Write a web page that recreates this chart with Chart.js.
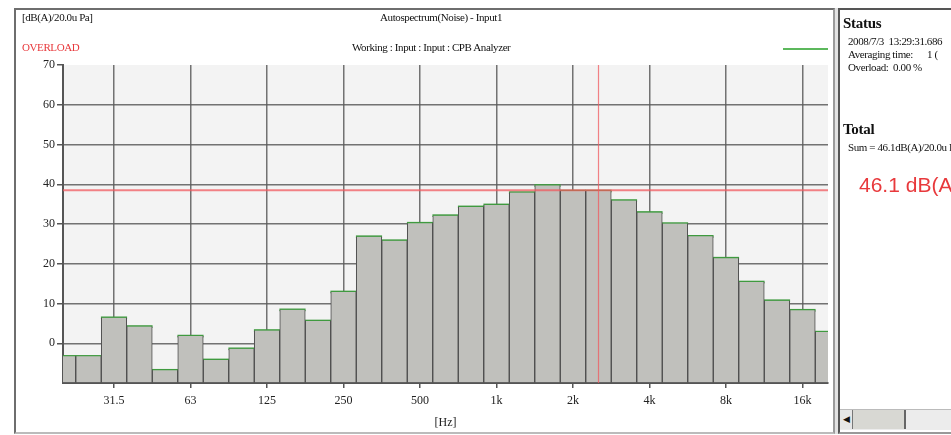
<!DOCTYPE html>
<html>
<head>
<meta charset="utf-8">
<script src="https://cdn.jsdelivr.net/npm/chart.js@4.4.1/dist/chart.umd.min.js"></script>
<style>
  body { margin: 0; width: 951px; height: 435px; background: #fff; overflow: hidden; position: relative; font-family: 'Liberation Serif', serif; }
  #leftPanel { position: absolute; left: 14px; top: 8px; width: 821px; height: 426px; box-sizing: border-box; border-top: 2px solid #6e6e6e; border-left: 2px solid #6e6e6e; border-bottom: 2px solid #bbb; border-right: 2px solid #9a9a9a; }
  #sep { position: absolute; left: 835px; top: 8px; width: 3px; height: 426px; background: #e2e2e2; }
  #rightPanel { position: absolute; left: 838px; top: 8px; width: 120px; height: 426px; box-sizing: border-box; border-top: 2px solid #555; border-left: 2px solid #555; border-bottom: 2px solid #999; }
  #chartWrap { position: absolute; left: 0; top: 0; width: 951px; height: 435px; z-index: 2; }
  .txt { position: absolute; white-space: nowrap; font-size: 11px; color: #111; letter-spacing: -0.4px; z-index: 3; }
  .bold { font-weight: bold; font-size: 15px; letter-spacing: -0.3px; color: #111; }
  #legendLine { position: absolute; left: 783px; top: 48px; width: 45px; height: 2px; background: #5cb85c; z-index: 3; }
  #scroll { position: absolute; left: 840px; top: 409px; width: 111px; height: 20px; background: #ececec; border-top: 1px solid #bbb; z-index: 3; }
  #scrollBtn { position: absolute; left: 0; top: 0; width: 12px; height: 19px; border-right: 1px solid #777; background: #e6e6e6; font-size: 9px; line-height: 19px; text-align: center; color: #111; }
  #scrollThumb { position: absolute; left: 13px; top: 0; width: 51px; height: 19px; background: #d8d8d3; border-right: 2px solid #666; }
</style>
</head>
<body>
<div id="leftPanel"></div>
<div id="sep"></div>
<div id="rightPanel"></div>
<div id="chartWrap"><canvas id="spectrum" width="951" height="435"></canvas></div>

<div class="txt" style="left:22px; top:11px;">[dB(A)/20.0u Pa]</div>
<div class="txt" style="left:22px; top:41px; color:#e8393c;">OVERLOAD</div>
<div class="txt" style="left:380px; top:11px;">Autospectrum(Noise) - Input1</div>
<div class="txt" style="left:352px; top:41px;">Working : Input : Input : CPB Analyzer</div>
<div id="legendLine"></div>

<div class="txt bold" style="left:843px; top:15px;">Status</div>
<div class="txt" style="left:848px; top:35px;">2008/7/3&nbsp; 13:29:31.686</div>
<div class="txt" style="left:848px; top:48px;">Averaging time:&nbsp;&nbsp;&nbsp;&nbsp;&nbsp; 1 (</div>
<div class="txt" style="left:848px; top:61px;">Overload:&nbsp; 0.00 %</div>
<div class="txt bold" style="left:843px; top:121px;">Total</div>
<div class="txt" style="left:848px; top:141px;">Sum = 46.1dB(A)/20.0u Pa</div>
<div class="txt" style="left:859px; top:173px; font-family:'Liberation Sans', sans-serif; font-size:21px; color:#e8393c; letter-spacing:0;">46.1 dB(A)</div>

<div id="scroll"><div id="scrollBtn">&#9664;</div><div id="scrollThumb"></div></div>

<script>
// 1/3-octave bands, 20 Hz .. 20 kHz
const bandLabels = ['20', '25', '31.5', '40', '50', '63', '80', '100', '125', '160', '200', '250', '315', '400', '500', '630',
  '800', '1k', '1.25k', '1.6k', '2k', '2.5k', '3.15k', '4k', '5k', '6.3k', '8k', '10k', '12.5k', '16k', '20k'];
const octaveLabels = ['31.5', '63', '125', '250', '500', '1k', '2k', '4k', '8k', '16k'];
const levels = [-3.3, -3.3, 6.4, 4.2, -6.8, 1.8, -4.2, -1.4, 3.2, 8.4, 5.6, 12.9, 26.8, 25.8, 30.2, 32.1,
  34.3, 34.8, 37.9, 39.7, 38.3, 38.3, 35.9, 32.9, 30.1, 26.9, 21.4, 15.4, 10.7, 8.3, 2.8];
const yTickValues = [-10, 0, 10, 20, 30, 40, 50, 60, 70];
const cursorLevel = 38.5;
const cursorBand = '2.5k';

const gridColor = 'rgba(90,90,90,0.85)';
const serif = { family: 'Liberation Serif', size: 12 };

// thin green caps sitting on the top of each bar
const capData = levels.map(v => [v - 0.25, v + 0.25]);

const plotBackground = {
  id: 'plotBackground',
  beforeDraw(chart) {
    const { ctx, chartArea } = chart;
    ctx.save();
    ctx.fillStyle = '#f3f3f3';
    ctx.fillRect(chartArea.left, chartArea.top, chartArea.right - chartArea.left, chartArea.bottom - chartArea.top);
    ctx.restore();
  }
};

const cursorLines = {
  id: 'cursorLines',
  afterDatasetsDraw(chart) {
    const { ctx, chartArea, scales } = chart;
    const y = scales.y.getPixelForValue(cursorLevel);
    const x = scales.x.getPixelForValue(bandLabels.indexOf(cursorBand));
    ctx.save();
    ctx.strokeStyle = 'rgba(240,90,95,0.75)';
    ctx.lineWidth = 2;
    ctx.beginPath();
    ctx.moveTo(chartArea.left, y);
    ctx.lineTo(chartArea.right, y);
    ctx.stroke();
    ctx.lineWidth = 1.2;
    ctx.beginPath();
    ctx.moveTo(x, chartArea.top);
    ctx.lineTo(x, chartArea.bottom);
    ctx.stroke();
    ctx.restore();
  }
};

new Chart(document.getElementById('spectrum'), {
  type: 'bar',
  data: {
    labels: bandLabels,
    datasets: [{
      data: levels,
      base: -10,
      backgroundColor: '#c0c0bc',
      borderColor: '#4a4a4a',
      borderWidth: { left: 1, right: 1, top: 0, bottom: 0 },
      borderSkipped: false,
      barPercentage: 1,
      categoryPercentage: 1,
      grouped: false,
      clip: 0
    }, {
      data: capData,
      backgroundColor: '#3f9a3f',
      borderWidth: 0,
      barPercentage: 1,
      categoryPercentage: 1,
      grouped: false,
      clip: 0
    }]
  },
  options: {
    responsive: false,
    animation: false,
    layout: { padding: { left: 20, top: 65, right: 123, bottom: 5 } },
    plugins: { legend: { display: false }, tooltip: { enabled: false } },
    scales: {
      x: {
        offset: false,
        afterFit(scale) { scale.height = 47; },
        grid: {
          offset: false,
          lineWidth: 1.5,
          tickLength: 5,
          color: ctx => octaveLabels.includes(bandLabels[ctx.index]) ? gridColor : 'rgba(0,0,0,0)',
          tickColor: ctx => octaveLabels.includes(bandLabels[ctx.index]) ? '#555' : 'rgba(0,0,0,0)'
        },
        border: { color: '#555', width: 2 },
        ticks: {
          autoSkip: false,
          maxRotation: 0,
          padding: 6,
          color: '#222',
          font: serif,
          callback: (value, index) => octaveLabels.includes(bandLabels[index]) ? bandLabels[index] : ''
        },
        title: { display: true, text: '[Hz]', color: '#222', font: serif, padding: { top: 1, bottom: 0 } }
      },
      y: {
        min: -10,
        max: 70,
        afterFit(scale) { scale.width = 43; },
        afterBuildTicks(scale) { scale.ticks = yTickValues.map(v => ({ value: v })); },
        grid: {
          lineWidth: 1.5,
          tickLength: 6,
          color: ctx => (ctx.tick && ctx.tick.value > -10 && ctx.tick.value < 70) ? gridColor : 'rgba(0,0,0,0)',
          tickColor: ctx => (ctx.tick && ctx.tick.value > -10) ? '#555' : 'rgba(0,0,0,0)'
        },
        border: { color: '#555', width: 2 },
        ticks: {
          padding: 2,
          color: '#222',
          font: serif,
          callback: value => value === -10 ? '' : value
        }
      }
    }
  },
  plugins: [plotBackground, cursorLines]
});
</script>
</body>
</html>
